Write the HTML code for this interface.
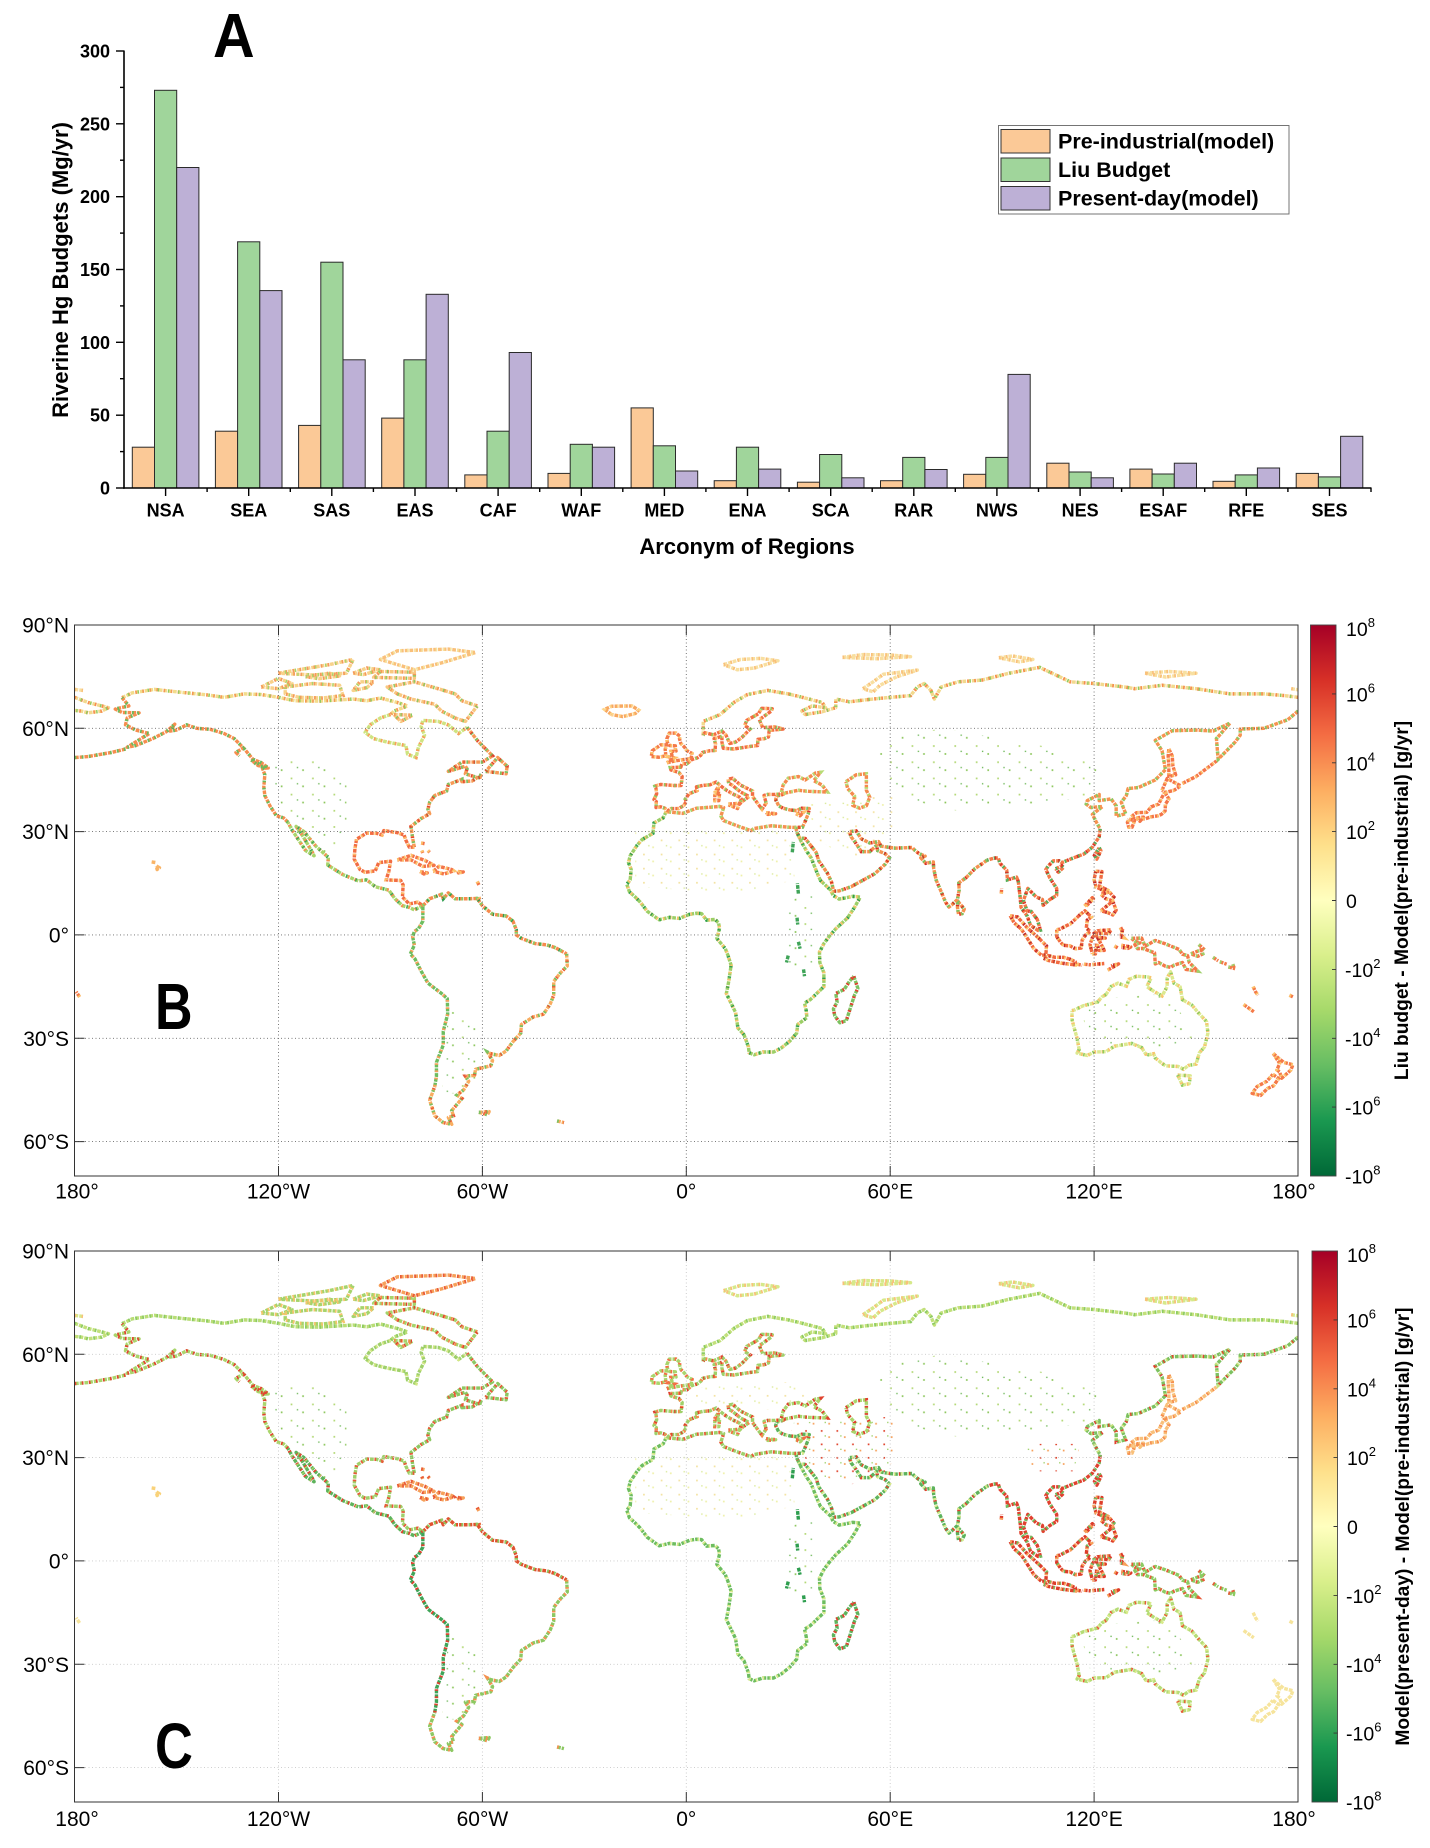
<!DOCTYPE html>
<html><head><meta charset="utf-8"><style>
html,body{margin:0;padding:0;background:#fff;}
body{width:1430px;height:1848px;overflow:hidden;position:relative;}
svg text{font-family:"Liberation Sans",Arial,sans-serif;}
.c{fill:none;stroke-width:1.0;stroke-linejoin:round;stroke-linecap:butt;stroke-dasharray:1.1 0.3;}
.ov{fill:none;stroke-width:1.0;stroke-dasharray:0.5 1.6;stroke-linecap:butt;}
.ov2{fill:none;stroke-width:1.0;stroke-dasharray:0.4 2.6;stroke-dashoffset:1.1;}
.ax{font-weight:bold;}
</style></head><body>
<svg width="1430" height="1848" viewBox="0 0 1430 1848" xmlns="http://www.w3.org/2000/svg" style="position:absolute;left:0;top:0">
<defs>
<linearGradient id="cb" x1="0" y1="0" x2="0" y2="1">
<stop offset="0" stop-color="#a50026"/><stop offset="0.1" stop-color="#d73027"/><stop offset="0.2" stop-color="#f46d43"/><stop offset="0.3" stop-color="#fdae61"/><stop offset="0.4" stop-color="#fee08b"/><stop offset="0.5" stop-color="#ffffbf"/><stop offset="0.6" stop-color="#d9ef8b"/><stop offset="0.7" stop-color="#a6d96a"/><stop offset="0.8" stop-color="#66bd63"/><stop offset="0.9" stop-color="#1a9850"/><stop offset="1" stop-color="#006837"/>
</linearGradient>
<pattern id="pg" patternUnits="userSpaceOnUse" width="6.3" height="4.7"><rect x="0.4" y="0.6" width="0.5" height="0.5" fill="#8cc65c"/><rect x="3.3" y="2.9" width="0.5" height="0.5" fill="#b2d874"/><rect x="5.1" y="1.4" width="0.4" height="0.4" fill="#6fb85a"/></pattern>
<pattern id="py" patternUnits="userSpaceOnUse" width="5.2" height="4.1"><rect x="0.4" y="0.6" width="0.5" height="0.5" fill="#eef0a8"/><rect x="2.9" y="2.6" width="0.5" height="0.5" fill="#f3e2a0"/><rect x="4.4" y="1.1" width="0.4" height="0.4" fill="#d8e996"/></pattern>
<pattern id="po" patternUnits="userSpaceOnUse" width="4.6" height="3.9"><rect x="0.4" y="0.6" width="0.5" height="0.5" fill="#f6a05a"/><rect x="2.8" y="2.4" width="0.5" height="0.5" fill="#e0452f"/><rect x="3.9" y="1.0" width="0.4" height="0.4" fill="#9fd06a"/></pattern>

<path id="na_n" d="M-166,68.9 -163,70.3 -156.5,71.3 -152,70.8 -145,70.1 -141,69.7 -136,69 -130,70 -125,69.8 -120,69 -115,68 -108,67.9 -98,68.5 -94,68 -90,68.8 -85,67.5 -82,66.5 -86,65 -87,64"/>
<path id="na_hb" d="M-87,64 -90,63 -93,61 -94.5,58.8 -92,57 -88,56 -82.5,55 -82,52.5 -79.5,51.5 -78.8,54.5 -77,58 -78,60.5 -77.5,62.3 -73,62 -70,61 -67,58.5 -64.5,60.3"/>
<path id="na_e" d="M-64.5,60.3 -61.5,56.5 -57,52 -60,50.2 -66,50.2 -70,47.5 -65,49 -64.5,48.2 -65,46.8 -61.5,45.7 -63,44.7 -66,44.5 -66,45.2 -67,44.8 -70,43.7 -70.5,41.8 -74,40.5 -75.5,38.5 -76,36.5 -75.5,35.2 -78,33.8 -81,31.5 -80.5,28 -80,25.5 M-59,47.5 -53,46.8 -52.7,49 -55.5,51.5 -59,47.5 M-61,46.5 -60,46 -61.3,45.6"/>
<path id="na_g" d="M-80,25.5 -81.5,25.5 -82.5,27.5 -83,29 -85,29.7 -89,30.3 -89.5,29 -91,29.5 -94,29.6 -97,27.8 -97.5,25 -97.7,22 -96,19 -94.5,18.2 -91.5,18.6 -90.5,21 -87,21.4 -87.5,18.5 -88.3,16 -84,15.8 -83.3,14.5 -83.5,11 -81.5,9 -79,9.5 -77.5,8.5"/>
<path id="na_w" d="M-77.5,8.5 -78.5,8 -80,7.3 -81.5,8 -83.5,8.5 -85.7,10.5 -87.5,13 -91.5,14 -94,16 -96.5,15.7 -101,17.5 -105.5,20.3 -105.3,22.5 -109,25.8 -112.5,30 -114.8,31.5 -113,29 -110,24 -109.5,23 -112,24.5 -114,27.5 -116,30.5 -117.2,32.7"/>
<path id="na_wc" d="M-117.2,32.7 -118.5,34 -120.6,34.6 -122.5,37.5 -124,40.5 -124.3,43 -124,46.5 -124.7,48.4 -123,48.5 -125,50 -127.5,51 -130,54 -133,57 -136,58.5 -140,59.7 -144,60 -147,61 -150,59.5 -151.8,59.2 -150.5,61.2 -153,59 -157,57 -162,55 -164.5,54.5 -158,58.5 -162,59.5 -165,61 -164.5,63 -161,64.5 -166,64.6 -168,65.6 -164,66.5 -166,68.9 M-165,54 -169,53 -172,52.5 -176,51.8 -180,51.5 M-130,54.5 -132.5,53 -131.5,52 M-128,50.8 -123.5,48.5 -126,49.2 -128,50.8"/>
<path id="arc_w" d="M-118,72 -110,73 -102,72.5 -101,69.5 -107,68.8 -114,69 -118,70 -118,72 M-125,72 -120,74.5 -116,73 -120,71.5 -125,72 M-120,76 -105,78.5 -98,80 -100,76 -110,75.5 -120,76 M-98,76 -94,77.5 -90,77 -95,75.6 -98,76 M-92,73.5 -96,73.5 -98,71 -94,71.8 -92,73.5 M-112,75 -105,76 -102,75.2 -108,74.4 -112,75"/>
<path id="arc_e" d="M-61.5,66.5 -66,68 -68,70 -73,71.5 -80,73.5 -88,72 -85,70 -81,68.5 -74,67 -72,65 -68,63 -65,62 -61.5,66.5 M-90,76.5 -80,76.3 -80,74.5 -92,74.8 -90,76.5 M-86,64 -80.5,63.8 -84,62 -86,64"/>
<path id="ell" d="M-80,77 -90,80 -85,82.5 -70,83 -62,82 -72,79 -80,77"/>
<path id="carib" d="M-85,21.8 -81,23.1 -77,21.7 -74.2,20.2 -77.5,19.9 -81,21.8 -85,21.8 M-74.4,18.5 -72.8,19.9 -69,19 -68.4,18.6 -71.3,17.7 -74.4,18.5 M-78.3,18.4 -76.2,18 -77.2,17.7 -78.3,18.4 M-67.2,18.4 -65.6,18.3 -67,18 -67.2,18.4 M-78,26.7 -77,26.5 M-77.8,24.5 -77.5,23.8 M-76,24.5 -75.5,24 M-61.5,15.5 -61,14.5 M-61,11 -60.8,10.3"/>
<path id="haw" d="M-155.9,20 -155,19.5 -155.7,19 -155.9,20 M-157.3,21.2 -156,21"/>
<path id="sa_n" d="M-77.5,8.5 -75.5,10.5 -72,11.8 -71.5,10.5 -70,12.2 -68,10.5 -64,10.5 -61.5,10.6 -60,8.5 -57,6 -53,5.5 -51,4 -50,1.5 -50,0 -48.5,-1 -44.5,-2.5 -41,-2.9 -38.5,-3.7 -35.2,-5.5"/>
<path id="sa_e" d="M-35.2,-5.5 -35,-9 -37,-11 -39,-13.5 -39,-17.5 -40,-20 -42,-23 -45,-23.8 -48.5,-26 -48.7,-28.5 -51,-31 -53,-33.7 -55,-35 -57.5,-34.5 -58.5,-34 -57,-36.5 -57.5,-38 -62,-39 -62.3,-40.8 -65,-41 -64,-42.5 -65.5,-45 -67.5,-46.5 -66,-47.5 -69,-51 -68.5,-52.5 -70,-53 -69,-55 -71.5,-54.5 -74,-52.5 -75.5,-48 -74,-44 M-61,-51.5 -58,-51.3 -58.5,-52.2 -61,-51.5 M-38,-54 -36,-54.5"/>
<path id="sa_w" d="M-74,-44 -73.5,-41 -73.5,-37 -71.5,-32 -71.5,-28 -70.2,-23 -70.3,-18.5 -72,-17 -76,-14 -78,-10.5 -79.8,-7 -81.2,-5.5 -80,-3 -80.5,-0.5 -80,1 -78.8,1.8 -77.5,4 -77.5,7 -77.5,8.5"/>
<path id="eu_n" d="M5,58 5,62 10,64 14,67.5 18,69.8 24,71 30,70 33,69.3 40,67.5 41,66 37,66.5 34,65 35,64 38,64.5 40,64.8 44,66 44,68.5 48,67.7 53,68.3 58,68.8 66,69.5 68,72 70,73 72,71 73,68.5 75,72 80,73.5 87,74 95,76 104,77.7 113,73.5 120,73 129,72 132,71.5 140,72.5 150,71.5 160,70 170,70 176,69.5 180,69 M-180,69 -176,67.5 -172,66.5 -170,66 -172,65 -176,64.5 -178,65 -180,65.2"/>
<path id="ru_is" d="M11,78.5 16,80 22,80.3 27,79.6 20,77.5 15,77 11,78.5 M52,71.5 55,73.5 58,75.7 68,76.9 62,75 57,72.5 55,70.6 52,71.5 M92,80.5 96,81 102,80 98,79.3 92,80.5 M135,76 142,76.5 150,76 141,74.9 135,76 M46,80.6 52,81.4 60,81.3 66,80.8 56,80.2 46,80.6 M178,71.5 180,71.2 M-180,71.3 -177.5,71"/>
<path id="ea" d="M180,65 177,62.5 170,60 163,59.8 163,58 161.5,56 156.5,51 156,57 160,61.5 155,59.2 150,59.5 143,59.3 138,56.5 140,53.5 141,48 138,45 133,42.8 130,42.5 129.5,40.5 128,38.5 129.3,35.2 126.5,34.5 126.5,37.5 125,39.5 121.5,39 121.5,40.8 118,39 117.7,38 119,37 122.5,37.3 119.5,35 120.8,32.5 121.8,30.8"/>
<path id="cn" d="M121.8,30.8 121.5,28.5 119.5,25.5 117,23.5 113.5,22.2 110.5,21 109.7,21.5 108,21.5 106.5,20 105.8,19 107,16.5 109,13.5 109,11.5 107,10.3 105,8.6 104.8,10.3 103,11 100.5,13.5 99.2,10 100.3,7 101.5,6.8 103.3,4.5 104.2,1.4 103.5,1.3 101.3,2.8 100.3,5.5 98.5,8 98.3,10.5 97.7,15.5 97.2,16.8 94.5,16 94.3,18.8 92.3,20.8 91.8,22.4 90.5,22.3 88.5,21.7 M108.7,19.2 110.5,20.1 111,19.6 109.5,18.2 108.7,19.2 M121.5,25.3 122,24.5 120.8,22 120.1,23.1 121.5,25.3"/>
<path id="ind" d="M88.5,21.7 86.8,20.5 85,19.3 82.3,16.6 80.2,15.1 80.3,13 79.8,10.3 78.2,8.8 77.3,8.1 76.3,9.5 74.9,12.8 73.5,16 72.8,19.3 72.7,21.2 70.5,20.8 69,22.4 70.3,22.9 68.5,23.6 67,24.8 66.5,25.4 64,25.3 61.5,25.2 58.5,25.6 57.3,25.8 56.6,27.1 54,26.7 51.5,27.9 50,30.2 48,30 48.5,28.5 50,26.5 51.5,24.2 54,24.2 56,26 56.3,24.5 58.5,23.6 59.8,22.4 58.5,20.5 55.5,17.8 52.2,16 48.5,14 45,12.8 43.4,12.7 42.7,15.5 41.5,18 39,21.5 38.2,24 35,28 34.6,28.1 33.5,28 32.5,29.9 32.3,31.2 34.2,31.3 35,33 35.9,35.2 36.2,36.7 34,36.8 32.5,36.1 30.5,36.3 28.5,36.8 27.2,37.5 26.3,39.3 26.6,40.3 29,41 M79.9,9.8 81.8,7.5 81.2,6.2 80.1,6 79.8,8 79.9,9.8"/>
<path id="eu" d="M29,41 26,40.8 24,40.8 22.9,40.5 23.5,38.3 22.3,36.5 21.3,37.8 19.5,40.2 19.5,41.8 16,43.5 13.6,45.5 12.3,45.2 12.5,44 13.5,43.5 16,41.5 18.5,40.2 16.5,38.8 15.7,38 16.2,39.5 15.7,40 14,40.8 12,41.9 10.5,43 8.8,44.4 7,43.6 4.8,43.4 3,43 3.2,41.9 0.8,41 -0.3,39.4 0,38.8 -0.7,37.6 -2.2,36.7 -4.4,36.7 -5.5,36 -6.3,36.8 -7.5,37.2 -8.9,37 -8.8,38.7 -9.5,39.3 -8.7,41 -8.9,42.5 -9.2,43.2 -7.5,43.7 -3.8,43.4 -1.5,43.4 -1.2,46 -2.2,47.2 -4.5,47.9 -4.7,48.6 -1.6,48.7 -1.3,49.7 0.2,49.7 1.6,50.9 3.2,51.4 4.3,52.2 4.8,53 7,53.5 8.5,53.6 8.6,55.5 8.2,57 10.5,57.7 10.5,56 10.9,54.2 14,54 18.5,54.7 21,55 21.1,56.8 23,57 24.2,57.5 24.4,59.4 28.5,59.8 26,60.4 22.5,60.2 21.5,62.5 25,65 25.3,65.7 22.2,65.8 21.2,64.2 17.8,62.3 17.2,60.8 18.8,59.8 16.3,57.3 14.5,56 12.8,55.6 11.7,58 10.5,59.2 8,58.1 5.5,58.7 5,58"/>
<path id="eu_is" d="M-5.7,50 -3,50.6 1.4,51.2 1.7,52.7 0.2,53.5 -0.5,54.5 -1.6,55.6 -2,57 -1.8,57.6 -3,58.6 -5,58.6 -5.7,57 -5.6,56 -4.9,55 -3.2,54.9 -3.2,54 -3,53.4 -4.5,53.3 -4.2,52.2 -5.2,51.7 -3.5,51.4 -5.7,50 M-6,52 -6.2,53.9 -5.8,55.2 -7.5,55.2 -8.5,54.5 -10,53.5 -10.3,51.8 -8,51.6 -6,52 M12.4,38 15.6,38.2 15.1,36.7 12.4,37.8 M8.4,41 9.8,41 9.6,39 8.4,39 8.4,41 M9.4,43 9.5,41.4 8.6,41.7 9.4,43 M23.5,35.5 26.3,35.2 24,35 23.5,35.5 M32.3,35.2 34.5,35.6 33.5,34.6 32.3,35.2"/>
<path id="ice" d="M-22,64 -24,65.5 -22,66.4 -16,66.5 -14,65.3 -15,64.3 -18.7,63.4 -22,64"/>
<path id="inl" d="M28,41.5 28.5,43.5 30,45.5 33,46 35,45 38,47 39.5,47.2 37.5,44.8 40,43.5 41.5,41.5 36,41.7 33,42 29,41.2 28,41.5 M47,44.5 50,46.5 53,46.8 53,42 54,40 53,37.5 51,36.8 49,37.6 49.5,40.3 47.5,42.5 47,44.5"/>
<path id="af_n" d="M32.3,31.2 30,31.3 25,31.7 20,30.9 19,30.3 15.5,31.5 11,33.2 10.2,34.5 11,37 9.7,37.3 6,37 3,36.8 -1,35.3 -5.9,35.8"/>
<path id="af" d="M-5.9,35.8 -6.8,34 -9.5,32.5 -9.8,29.5 -13,27.7 -14.5,26 -16.5,23 -17,21 -16.2,19 -16.5,16 -17.5,14.7 -16.7,12.5 -15,11 -13.5,9.5 -11.5,6.9 -8,4.4 -5,5.1 -2,4.8 1,6 3,6.3 4.5,6.2 6,4.3 8.5,4.5 9.5,3.5 9.8,2 9.3,0 9,-1 11.5,-4 12.3,-6 13.2,-8.8 12.5,-13.5 11.8,-17 14.5,-22.5 15.2,-27 17,-29 18.3,-32.5 18.5,-34.2 20,-34.8 22.5,-34 25.7,-34 28,-32.8 30.5,-30.8 32.5,-28.5 32.8,-26 35.5,-24 35.3,-22 34.8,-19.8 36.5,-18.8 40.5,-15 40.5,-11 39.3,-8 39.2,-5 40.5,-2.5 42,-0.5 44,1.8 47.5,5 49.5,8 51.2,11 49,11.2 45,10.4 43.2,11.5 42.5,13 39.5,15.8 38.5,18 37.3,21 36.7,22.5 35.5,24.2 33.9,27 32.5,29.9"/>
<path id="afr" d="M33,-2 33.5,-4 M32.6,5 32.8,3 M34.5,-10 34.8,-12 M30,-6 29.5,-8 M31.2,24 31.5,27 M33,12 32.7,15"/>
<path id="mad" d="M49.3,-12 50.5,-15.5 49.5,-17.5 47.1,-24.9 45.2,-25.5 43.7,-23.5 43.3,-21.5 44.4,-19.5 44,-17 46.5,-15.8 48,-13.5 49.3,-12"/>
<path id="sea" d="M95.3,5.6 97.5,5.2 100.3,2.1 103.8,-1 106,-3.2 105.8,-5.8 104.5,-5.9 102.3,-4 100.5,-1.2 98.6,1.7 96.5,3.5 95.3,5.6 M105.2,-6.8 106.5,-6 108.5,-6.5 111,-6.5 112.8,-7 114.5,-7.8 114.5,-8.7 110.5,-8.2 106.5,-7.4 105.2,-6.8 M109,1.5 110,1.7 111.5,2.5 113,3.2 114.5,4.6 116,6 117.3,7 119.2,5.2 118,4.3 117.7,2 118.9,1 117.5,0 116.5,-1.5 116.2,-3.8 114.5,-4 113,-3.2 111,-3 110.2,-2.2 109,-0.5 109,1.5 M119.5,-5.5 120.4,-5.5 120.8,-2.5 121.5,-4.5 123,-4.5 121.3,-1.2 123.3,-0.9 121,-0.7 120.1,0.5 121,1.2 125,1.5 124.3,0.4 120.5,0.5 119.5,-0.8 118.8,-2.8 119.5,-5.5 M120.5,18.5 122.3,18.4 122,16.5 121.6,14.2 124,13 123.7,12.5 120.6,13.9 120,16 120.5,18.5 M122,7 125.5,9.8 126.5,7.2 125.5,5.8 124,6.5 122,7 M124.5,12.5 125.8,11 125,10 123.5,10.5 122,11.8 124.5,12.5 M117.2,8.4 119.5,10.8 119.8,10.5 117.5,8.2 M115,-8.5 116.5,-8.8 M117,-8.5 119,-8.7 M119.5,-8.6 123,-8.3 M124,-10.2 127.2,-8.4 125,-9 M127.5,1.5 128.5,2 128,0 128.8,-0.8 127.5,-0.5 M128,-3 130.8,-3.5 130,-3.9 128,-3.6 M126,-3.2 127,-3.8 M92.7,12 92.8,13.5"/>
<path id="ng" d="M131,-1 134,-0.9 135,-3.3 138,-1.6 141,-2.6 145,-4.2 146,-5.6 147.5,-6 148,-8 150.5,-10.5 149,-10.3 147,-10 146,-8 143.5,-8.8 142.5,-9.4 141,-9.1 139,-8 138,-8.4 137.8,-5.2 134.3,-3.9 132.8,-4 132,-2.8 133.5,-2.3 132,-1.8 131,-1 M148.5,-5.5 151.5,-4.3 152,-5.5 150.5,-6.2 148.5,-5.5 M150.8,-2.8 152.5,-4.3 M155,-6.5 156.5,-7.5 M157,-7.8 159,-8.5 M159.5,-9.3 161.5,-9.8 M160.8,-8.5 161.2,-9.5"/>
<path id="jp" d="M142,54 143,52 143.2,49 144,46.5 142,46 142,49 141.8,52 142,54 M140,42 141.5,45.4 145.5,43.3 143.5,42 141,41.4 140,42 M140.8,41.4 142,39.5 141,38 140.9,36 139.8,35 138.8,34.6 136.8,34.3 135,33.7 132,33.8 130.9,34.3 132.5,35.5 135.5,35.6 136.8,37.2 139,38 140,40 140.8,41.4 M130.3,33.6 131.9,33.2 131.2,31.3 130.2,31.3 129.8,32.7 130.3,33.6 M132.5,34 134.5,34.2 133.5,33 132.5,34 M146,44 148,45 150,46 152,47.5 154,49 156,50.5"/>
<path id="au" d="M113.5,-22 114.2,-21.8 116.7,-20.6 121,-19.5 122.3,-18 123.5,-17.3 125,-15 127,-14 129.5,-14.9 130.3,-12.9 132.5,-12 135.8,-12.2 136.8,-12.5 135.5,-15 137.8,-16.5 140,-17.7 141.5,-15 141.5,-12.5 142.5,-10.7 143.5,-14 145.3,-15 146,-18.8 148.8,-20.4 150.6,-22.5 153.1,-25.2 153.5,-28.5 152.5,-32.5 151,-34.2 150,-37.5 147.8,-37.9 146.3,-39 144.8,-38.2 141,-38 139.6,-37 138,-35.7 137.5,-34.5 136,-34.8 135.2,-34.6 134,-32.7 131,-31.5 126,-32.3 123.5,-33.9 120,-34 118,-35 115,-34.3 115.6,-33.3 115,-30 114,-26.5 113.5,-24.5 113.5,-22 M144.6,-40.7 148.3,-40.9 148,-43.2 146,-43.6 144.6,-40.7"/>
<path id="nz" d="M172.7,-34.4 174.5,-36 175.8,-37 178.5,-37.7 177.9,-39.2 176.8,-40.2 175.2,-41.6 174.6,-39.8 173.8,-39.2 174.6,-37.3 172.7,-34.4 M172.6,-40.5 174.3,-41.7 172.8,-43.8 171,-44.6 169,-46.6 166.5,-46 168,-44 170.8,-42.5 172.6,-40.5 M164,-20.2 167,-22.3 M166.8,-15 167.5,-16.5 168.2,-17.5 M177.5,-17.5 178.5,-18 M-178.5,-18 -179.5,-16.5"/>
</defs>

<!-- ============ PANEL A ============ -->
<text x="213" y="57" font-size="62" font-weight="bold" transform="translate(213,57) scale(0.93,1) translate(-213,-57)">A</text>
<g stroke="#2a2a2a" stroke-width="1">
<rect x="132.3" y="447.2" width="22.2" height="40.8" fill="#fbc997"/><rect x="154.5" y="90.3" width="22.2" height="397.7" fill="#a0d59b"/><rect x="176.7" y="167.5" width="22.2" height="320.5" fill="#bdb0d6"/>
<rect x="215.4" y="431.2" width="22.2" height="56.8" fill="#fbc997"/><rect x="237.6" y="241.8" width="22.2" height="246.2" fill="#a0d59b"/><rect x="259.8" y="290.6" width="22.2" height="197.4" fill="#bdb0d6"/>
<rect x="298.6" y="425.4" width="22.2" height="62.6" fill="#fbc997"/><rect x="320.8" y="262.2" width="22.2" height="225.8" fill="#a0d59b"/><rect x="343.0" y="359.8" width="22.2" height="128.2" fill="#bdb0d6"/>
<rect x="381.7" y="418.1" width="22.2" height="69.9" fill="#fbc997"/><rect x="403.9" y="359.8" width="22.2" height="128.2" fill="#a0d59b"/><rect x="426.1" y="294.3" width="22.2" height="193.7" fill="#bdb0d6"/>
<rect x="464.8" y="474.9" width="22.2" height="13.1" fill="#fbc997"/><rect x="487.0" y="431.2" width="22.2" height="56.8" fill="#a0d59b"/><rect x="509.2" y="352.5" width="22.2" height="135.5" fill="#bdb0d6"/>
<rect x="548.0" y="473.4" width="22.2" height="14.6" fill="#fbc997"/><rect x="570.2" y="444.3" width="22.2" height="43.7" fill="#a0d59b"/><rect x="592.4" y="447.2" width="22.2" height="40.8" fill="#bdb0d6"/>
<rect x="631.1" y="407.9" width="22.2" height="80.1" fill="#fbc997"/><rect x="653.3" y="445.8" width="22.2" height="42.2" fill="#a0d59b"/><rect x="675.5" y="471" width="22.2" height="17" fill="#bdb0d6"/>
<rect x="714.2" y="480.7" width="22.2" height="7.3" fill="#fbc997"/><rect x="736.4" y="447.2" width="22.2" height="40.8" fill="#a0d59b"/><rect x="758.6" y="469.1" width="22.2" height="18.9" fill="#bdb0d6"/>
<rect x="797.4" y="482.2" width="22.2" height="5.8" fill="#fbc997"/><rect x="819.6" y="454.5" width="22.2" height="33.5" fill="#a0d59b"/><rect x="841.8" y="477.8" width="22.2" height="10.2" fill="#bdb0d6"/>
<rect x="880.5" y="480.7" width="22.2" height="7.3" fill="#fbc997"/><rect x="902.7" y="457.4" width="22.2" height="30.6" fill="#a0d59b"/><rect x="924.9" y="469.5" width="22.2" height="18.5" fill="#bdb0d6"/>
<rect x="963.6" y="474.3" width="22.2" height="13.7" fill="#fbc997"/><rect x="985.8" y="457.4" width="22.2" height="30.6" fill="#a0d59b"/><rect x="1008.0" y="374.4" width="22.2" height="113.6" fill="#bdb0d6"/>
<rect x="1046.8" y="463.2" width="22.2" height="24.8" fill="#fbc997"/><rect x="1069.0" y="472" width="22.2" height="16" fill="#a0d59b"/><rect x="1091.2" y="477.8" width="22.2" height="10.2" fill="#bdb0d6"/>
<rect x="1129.9" y="469.1" width="22.2" height="18.9" fill="#fbc997"/><rect x="1152.1" y="474" width="22.2" height="14" fill="#a0d59b"/><rect x="1174.3" y="463.2" width="22.2" height="24.8" fill="#bdb0d6"/>
<rect x="1213.0" y="481.3" width="22.2" height="6.7" fill="#fbc997"/><rect x="1235.2" y="474.9" width="22.2" height="13.1" fill="#a0d59b"/><rect x="1257.4" y="468" width="22.2" height="20" fill="#bdb0d6"/>
<rect x="1296.2" y="473.4" width="22.2" height="14.6" fill="#fbc997"/><rect x="1318.4" y="476.9" width="22.2" height="11.1" fill="#a0d59b"/><rect x="1340.6" y="436.3" width="22.2" height="51.7" fill="#bdb0d6"/>
</g>
<g stroke="#000" stroke-width="1.6" fill="none">
<line x1="124" y1="50.5" x2="124" y2="488.8"/>
<line x1="123.2" y1="488" x2="1371.5" y2="488"/>
</g>
<g stroke="#000" stroke-width="1.4">
<line x1="116" y1="488" x2="124" y2="488"/><line x1="116" y1="415.2" x2="124" y2="415.2"/><line x1="116" y1="342.3" x2="124" y2="342.3"/><line x1="116" y1="269.5" x2="124" y2="269.5"/><line x1="116" y1="196.7" x2="124" y2="196.7"/><line x1="116" y1="123.8" x2="124" y2="123.8"/><line x1="116" y1="51" x2="124" y2="51"/>
<line x1="120" y1="451.6" x2="124" y2="451.6"/><line x1="120" y1="378.7" x2="124" y2="378.7"/><line x1="120" y1="305.9" x2="124" y2="305.9"/><line x1="120" y1="233.1" x2="124" y2="233.1"/><line x1="120" y1="160.2" x2="124" y2="160.2"/><line x1="120" y1="87.4" x2="124" y2="87.4"/>
<line x1="165.6" y1="488" x2="165.6" y2="496"/><line x1="248.7" y1="488" x2="248.7" y2="496"/><line x1="331.8" y1="488" x2="331.8" y2="496"/><line x1="415" y1="488" x2="415" y2="496"/><line x1="498.1" y1="488" x2="498.1" y2="496"/><line x1="581.3" y1="488" x2="581.3" y2="496"/><line x1="664.4" y1="488" x2="664.4" y2="496"/><line x1="747.5" y1="488" x2="747.5" y2="496"/><line x1="830.7" y1="488" x2="830.7" y2="496"/><line x1="913.8" y1="488" x2="913.8" y2="496"/><line x1="996.9" y1="488" x2="996.9" y2="496"/><line x1="1080.1" y1="488" x2="1080.1" y2="496"/><line x1="1163.2" y1="488" x2="1163.2" y2="496"/><line x1="1246.3" y1="488" x2="1246.3" y2="496"/><line x1="1329.5" y1="488" x2="1329.5" y2="496"/>
<line x1="207.1" y1="488" x2="207.1" y2="492"/><line x1="290.3" y1="488" x2="290.3" y2="492"/><line x1="373.4" y1="488" x2="373.4" y2="492"/><line x1="456.5" y1="488" x2="456.5" y2="492"/><line x1="539.7" y1="488" x2="539.7" y2="492"/><line x1="622.8" y1="488" x2="622.8" y2="492"/><line x1="705.9" y1="488" x2="705.9" y2="492"/><line x1="789.1" y1="488" x2="789.1" y2="492"/><line x1="872.2" y1="488" x2="872.2" y2="492"/><line x1="955.3" y1="488" x2="955.3" y2="492"/><line x1="1038.5" y1="488" x2="1038.5" y2="492"/><line x1="1121.6" y1="488" x2="1121.6" y2="492"/><line x1="1204.7" y1="488" x2="1204.7" y2="492"/><line x1="1287.9" y1="488" x2="1287.9" y2="492"/><line x1="1371" y1="488" x2="1371" y2="492"/>
</g>
<g class="ax" font-size="18" text-anchor="end">
<text x="110" y="494.5">0</text><text x="110" y="421.7">50</text><text x="110" y="348.8">100</text><text x="110" y="276">150</text><text x="110" y="203.2">200</text><text x="110" y="130.3">250</text><text x="110" y="57.5">300</text>
</g>
<g class="ax" font-size="18" text-anchor="middle">
<text x="165.6" y="516.5">NSA</text><text x="248.7" y="516.5">SEA</text><text x="331.8" y="516.5">SAS</text><text x="415" y="516.5">EAS</text><text x="498.1" y="516.5">CAF</text><text x="581.3" y="516.5">WAF</text><text x="664.4" y="516.5">MED</text><text x="747.5" y="516.5">ENA</text><text x="830.7" y="516.5">SCA</text><text x="913.8" y="516.5">RAR</text><text x="996.9" y="516.5">NWS</text><text x="1080.1" y="516.5">NES</text><text x="1163.2" y="516.5">ESAF</text><text x="1246.3" y="516.5">RFE</text><text x="1329.5" y="516.5">SES</text>
</g>
<text class="ax" font-size="22" text-anchor="middle" x="747" y="554">Arconym of Regions</text>
<text class="ax" font-size="22" text-anchor="middle" transform="translate(68,270) rotate(-90)">Riverine Hg Budgets (Mg/yr)</text>
<rect x="998.5" y="125.5" width="290.5" height="88.5" fill="#fff" stroke="#666" stroke-width="0.9"/>
<g stroke="#333" stroke-width="1">
<rect x="1001" y="129.5" width="49" height="23.5" fill="#fbc997"/>
<rect x="1001" y="158" width="49" height="23.5" fill="#a0d59b"/>
<rect x="1001" y="186.5" width="49" height="23.5" fill="#bdb0d6"/>
</g>
<g class="ax" font-size="21.5">
<text x="1058" y="148.5">Pre-industrial(model)</text>
<text x="1058" y="177">Liu Budget</text>
<text x="1058" y="205.5">Present-day(model)</text>
</g>

<!-- ============ PANEL B ============ -->
<svg x="74.5" y="625" width="1223.5" height="551" viewBox="-180 -90 360 160" preserveAspectRatio="none">
<g transform="scale(1,-1)">
<polygon points="-122,50 -110,52 -100,46 -100,32 -105,20 -112,26 -118,34 -121,44" fill="url(#pg)"/>
<polygon points="-15,31 30,31 32,16 15,12 -15,14" fill="url(#py)"/>
<polygon points="36,38 62,42 60,26 48,22 38,28" fill="url(#py)"/>
<polygon points="55,56 75,60 110,54 122,48 118,40 100,38 80,36 62,40" fill="url(#pg)"/>
<polygon points="116,-19 142,-17 150,-30 136,-34 118,-31" fill="url(#pg)"/>
<polygon points="-70,-22 -60,-24 -60,-40 -66,-46 -72,-46" fill="url(#pg)"/>
<polygon points="30,-10 38,-10 38,12 30,10" fill="url(#pg)"/>
<use href="#na_n" class="c" stroke="#f3dc8c"/><use href="#na_n" class="ov" stroke="#f39a55"/><use href="#na_n" class="ov2" stroke="#8fcb62"/>
<use href="#arc_w" class="c" stroke="#f8d28a"/><use href="#arc_w" class="ov" stroke="#f49a5a"/><use href="#arc_w" class="ov2" stroke="#a9d56c"/>
<use href="#arc_e" class="c" stroke="#f8c880"/><use href="#arc_e" class="ov" stroke="#f49a5a"/><use href="#arc_e" class="ov2" stroke="#8ccb62"/>
<use href="#ell" class="c" stroke="#f9c07a"/><use href="#ell" class="ov" stroke="#f6e3a0"/>
<use href="#na_hb" class="c" stroke="#cfe481"/><use href="#na_hb" class="ov" stroke="#f6a05a"/>
<use href="#na_e" class="c" stroke="#f79a55"/><use href="#na_e" class="ov" stroke="#7cc160"/><use href="#na_e" class="ov2" stroke="#e0452f"/>
<use href="#carib" class="c" stroke="#f47548"/><use href="#carib" class="ov" stroke="#fdc36b"/>
<use href="#na_g" class="c" stroke="#f26d43"/><use href="#na_g" class="ov" stroke="#fdb967"/>
<use href="#na_w" class="c" stroke="#a9d56c"/><use href="#na_w" class="ov" stroke="#f59050"/><use href="#na_w" class="ov2" stroke="#3fa458"/>
<use href="#na_wc" class="c" stroke="#f68d4e"/><use href="#na_wc" class="ov" stroke="#69bb5c"/>
<use href="#haw" class="c" stroke="#f9b467"/>
<use href="#sa_n" class="c" stroke="#f68a4c"/><use href="#sa_n" class="ov" stroke="#8ccb62"/><use href="#sa_n" class="ov2" stroke="#2e9e4f"/>
<use href="#sa_e" class="c" stroke="#f9ad60"/><use href="#sa_e" class="ov" stroke="#7cc160"/><use href="#sa_e" class="ov2" stroke="#e85a38"/>
<use href="#sa_w" class="c" stroke="#6dbd5f"/><use href="#sa_w" class="ov" stroke="#f6a05a"/>
<use href="#eu_n" class="c" stroke="#f2d98e"/><use href="#eu_n" class="ov" stroke="#f68d4e"/><use href="#eu_n" class="ov2" stroke="#8ccb62"/>
<use href="#ru_is" class="c" stroke="#f8dfa0"/><use href="#ru_is" class="ov" stroke="#f9c07a"/>
<use href="#ea" class="c" stroke="#f6934f"/><use href="#ea" class="ov" stroke="#8ccb62"/>
<use href="#cn" class="c" stroke="#f47a48"/><use href="#cn" class="ov" stroke="#55b05a"/><use href="#cn" class="ov2" stroke="#d73027"/>
<use href="#ind" class="c" stroke="#f6924f"/><use href="#ind" class="ov" stroke="#7cc160"/><use href="#ind" class="ov2" stroke="#d73027"/>
<use href="#eu" class="c" stroke="#f26d43"/><use href="#eu" class="ov" stroke="#fdb967"/><use href="#eu" class="ov2" stroke="#8ccb62"/>
<use href="#eu_is" class="c" stroke="#f47a48"/><use href="#eu_is" class="ov" stroke="#fdc36b"/>
<use href="#ice" class="c" stroke="#f8a860"/><use href="#ice" class="ov" stroke="#fdd58a"/>
<use href="#inl" class="c" stroke="#f58a4c"/><use href="#inl" class="ov" stroke="#b7dc74"/>
<use href="#af_n" class="c" stroke="#f59050"/><use href="#af_n" class="ov" stroke="#a9d56c"/>
<use href="#af" class="c" stroke="#9ccf67"/><use href="#af" class="ov" stroke="#f6c46c"/><use href="#af" class="ov2" stroke="#2e9e4f"/>
<use href="#afr" class="c" stroke="#3fa458"/>
<use href="#mad" class="c" stroke="#7cc160"/><use href="#mad" class="ov" stroke="#e0412e"/>
<use href="#sea" class="c" stroke="#f26a40"/><use href="#sea" class="ov" stroke="#fdc36b"/><use href="#sea" class="ov2" stroke="#c02a2a"/>
<use href="#ng" class="c" stroke="#f47a48"/><use href="#ng" class="ov" stroke="#9fd06a"/>
<use href="#jp" class="c" stroke="#f47548"/><use href="#jp" class="ov" stroke="#fdb967"/>
<use href="#au" class="c" stroke="#dce98f"/><use href="#au" class="ov" stroke="#f7c56e"/><use href="#au" class="ov2" stroke="#8ccb62"/>
<use href="#nz" class="c" stroke="#f47a48"/><use href="#nz" class="ov" stroke="#fdc36b"/>
</g>
</svg>
<g stroke="#6a6a6a" stroke-width="0.9" stroke-dasharray="1 2.5" fill="none">
<line x1="74.5" y1="728.3" x2="1298" y2="728.3"/><line x1="74.5" y1="831.6" x2="1298" y2="831.6"/><line x1="74.5" y1="934.9" x2="1298" y2="934.9"/><line x1="74.5" y1="1038.3" x2="1298" y2="1038.3"/><line x1="74.5" y1="1141.6" x2="1298" y2="1141.6"/>
<line x1="278.5" y1="625" x2="278.5" y2="1176"/><line x1="482.4" y1="625" x2="482.4" y2="1176"/><line x1="686.3" y1="625" x2="686.3" y2="1176"/><line x1="890.2" y1="625" x2="890.2" y2="1176"/><line x1="1094.1" y1="625" x2="1094.1" y2="1176"/>
</g>
<g stroke="#333" stroke-width="1">
<rect x="74.5" y="625" width="1223.5" height="551" fill="none"/>
<path d="M278.5,625v10M482.4,625v10M686.3,625v10M890.2,625v10M1094.1,625v10M278.5,1176v-10M482.4,1176v-10M686.3,1176v-10M890.2,1176v-10M1094.1,1176v-10M74.5,728.3h10M74.5,831.6h10M74.5,934.9h10M74.5,1038.3h10M74.5,1141.6h10M1298,728.3h-10M1298,831.6h-10M1298,934.9h-10M1298,1038.3h-10M1298,1141.6h-10" fill="none"/>
</g>
<g font-size="21" text-anchor="end">
<text x="69" y="632.5">90°N</text><text x="69" y="735.8">60°N</text><text x="69" y="839.1">30°N</text><text x="69" y="942.4">0°</text><text x="69" y="1045.8">30°S</text><text x="69" y="1149.1">60°S</text>
</g>
<g font-size="21" text-anchor="middle">
<text x="77" y="1198.5">180°</text><text x="278.5" y="1198.5">120°W</text><text x="482.4" y="1198.5">60°W</text><text x="686.3" y="1198.5">0°</text><text x="890.2" y="1198.5">60°E</text><text x="1094.1" y="1198.5">120°E</text><text x="1294" y="1198.5">180°</text>
</g>
<text x="155" y="1029" font-size="65" font-weight="bold" transform="translate(155,1029) scale(0.8,1) translate(-155,-1029)">B</text>
<rect x="1310.5" y="625" width="25.5" height="551" fill="url(#cb)" stroke="#444" stroke-width="0.9"/>
<path d="M1336,693.9h-4M1336,762.8h-4M1336,831.6h-4M1336,900.5h-4M1336,969.4h-4M1336,1038.3h-4M1336,1107.1h-4" stroke="#333" stroke-width="0.9"/>
<g font-size="19.5">
<text x="1346" y="636">10<tspan dy="-9" font-size="13">8</tspan></text>
<text x="1346" y="701.4">10<tspan dy="-9" font-size="13">6</tspan></text>
<text x="1346" y="770.3">10<tspan dy="-9" font-size="13">4</tspan></text>
<text x="1346" y="839.1">10<tspan dy="-9" font-size="13">2</tspan></text>
<text x="1346" y="908">0</text>
<text x="1345" y="976.9">-10<tspan dy="-9" font-size="13">2</tspan></text>
<text x="1345" y="1045.8">-10<tspan dy="-9" font-size="13">4</tspan></text>
<text x="1345" y="1114.6">-10<tspan dy="-9" font-size="13">6</tspan></text>
<text x="1345" y="1183.5">-10<tspan dy="-9" font-size="13">8</tspan></text>
</g>
<text class="ax" font-size="19.2" text-anchor="middle" transform="translate(1408,900.5) rotate(-90)">Liu budget - Model(pre-industrial) [g/yr]</text>

<!-- ============ PANEL C ============ -->
<svg x="74.5" y="1251" width="1223.5" height="551" viewBox="-180 -90 360 160" preserveAspectRatio="none">
<g transform="scale(1,-1)">
<polygon points="-122,50 -110,52 -100,46 -100,32 -105,20 -112,26 -118,34 -121,44" fill="url(#pg)"/>
<polygon points="-15,31 30,31 32,16 15,12 -15,14" fill="url(#py)"/>
<polygon points="30,40 62,42 60,26 48,22 36,26" fill="url(#po)"/>
<polygon points="55,56 75,60 110,54 122,48 118,40 100,38 80,36 62,40" fill="url(#pg)"/>
<polygon points="100,34 116,34 114,26 102,26" fill="url(#po)"/>
<polygon points="116,-19 142,-17 150,-30 136,-34 118,-31" fill="url(#pg)"/>
<polygon points="-70,-22 -60,-24 -60,-40 -66,-46 -72,-46" fill="url(#pg)"/>
<polygon points="0,50 30,52 40,46 25,44 5,45" fill="url(#py)"/>
<polygon points="30,-10 38,-10 38,12 30,10" fill="url(#pg)"/>
<use href="#na_n" class="c" stroke="#b9dd76"/><use href="#na_n" class="ov" stroke="#8ccb62"/>
<use href="#arc_w" class="c" stroke="#a5d46c"/><use href="#arc_w" class="ov" stroke="#f6c46c"/>
<use href="#arc_e" class="c" stroke="#a5d46c"/><use href="#arc_e" class="ov" stroke="#f58a4c"/><use href="#arc_e" class="ov2" stroke="#e0412e"/>
<use href="#ell" class="c" stroke="#f6a05a"/><use href="#ell" class="ov" stroke="#e85a38"/>
<use href="#na_hb" class="c" stroke="#9fd06a"/><use href="#na_hb" class="ov" stroke="#d2e784"/>
<use href="#na_e" class="c" stroke="#8cc862"/><use href="#na_e" class="ov" stroke="#e85a38"/>
<use href="#carib" class="c" stroke="#f6a05a"/><use href="#carib" class="ov" stroke="#e85a38"/>
<use href="#na_g" class="c" stroke="#9fd06a"/><use href="#na_g" class="ov" stroke="#e85a38"/>
<use href="#na_w" class="c" stroke="#5db35c"/><use href="#na_w" class="ov" stroke="#e0452f"/><use href="#na_w" class="ov2" stroke="#a9d56c"/>
<use href="#na_wc" class="c" stroke="#a9d56c"/><use href="#na_wc" class="ov" stroke="#e0452f"/>
<use href="#haw" class="c" stroke="#f9d27a"/>
<use href="#sa_n" class="c" stroke="#e0522f"/><use href="#sa_n" class="ov" stroke="#8ccb62"/>
<use href="#sa_e" class="c" stroke="#8cc862"/><use href="#sa_e" class="ov" stroke="#f59050"/>
<use href="#sa_w" class="c" stroke="#3fa458"/><use href="#sa_w" class="ov" stroke="#e0412e"/>
<use href="#eu_n" class="c" stroke="#c2e07a"/><use href="#eu_n" class="ov" stroke="#8ccb62"/>
<use href="#ru_is" class="c" stroke="#d6e98a"/><use href="#ru_is" class="ov" stroke="#f9c07a"/>
<use href="#ea" class="c" stroke="#7cc160"/><use href="#ea" class="ov" stroke="#c9e27d"/><use href="#ea" class="ov2" stroke="#e0412e"/>
<use href="#cn" class="c" stroke="#e0412e"/><use href="#cn" class="ov" stroke="#6dbd5f"/>
<use href="#ind" class="c" stroke="#5db35c"/><use href="#ind" class="ov" stroke="#d9ea8c"/><use href="#ind" class="ov2" stroke="#e0412e"/>
<use href="#eu" class="c" stroke="#9fd06a"/><use href="#eu" class="ov" stroke="#f58a4c"/><use href="#eu" class="ov2" stroke="#e0412e"/>
<use href="#eu_is" class="c" stroke="#a9d56c"/><use href="#eu_is" class="ov" stroke="#f46d43"/>
<use href="#inl" class="c" stroke="#a9d56c"/><use href="#inl" class="ov" stroke="#e0412e"/>
<use href="#af_n" class="c" stroke="#9fd06a"/><use href="#af_n" class="ov" stroke="#e85a38"/>
<use href="#af" class="c" stroke="#6dbd5f"/><use href="#af" class="ov" stroke="#d9ea8c"/>
<use href="#afr" class="c" stroke="#2e9e4f"/>
<use href="#mad" class="c" stroke="#5db35c"/><use href="#mad" class="ov" stroke="#e0412e"/>
<use href="#sea" class="c" stroke="#dd3d2a"/><use href="#sea" class="ov" stroke="#f6a05a"/><use href="#sea" class="ov2" stroke="#6dbd5f"/>
<use href="#ng" class="c" stroke="#8ccb62"/><use href="#ng" class="ov" stroke="#e85a38"/>
<use href="#jp" class="c" stroke="#f9c07a"/><use href="#jp" class="ov" stroke="#f59050"/>
<use href="#au" class="c" stroke="#b5dc76"/><use href="#au" class="ov" stroke="#d9ea8c"/><use href="#au" class="ov2" stroke="#e85a38"/>
<use href="#nz" class="c" stroke="#f6e49c"/>
</g>
</svg>
<g stroke="#c8c8c8" stroke-width="0.9" stroke-dasharray="1 2.5" fill="none">
<line x1="74.5" y1="1354.3" x2="1298" y2="1354.3"/><line x1="74.5" y1="1457.6" x2="1298" y2="1457.6"/><line x1="74.5" y1="1560.9" x2="1298" y2="1560.9"/><line x1="74.5" y1="1664.3" x2="1298" y2="1664.3"/><line x1="74.5" y1="1767.6" x2="1298" y2="1767.6"/>
<line x1="278.5" y1="1251" x2="278.5" y2="1802"/><line x1="482.4" y1="1251" x2="482.4" y2="1802"/><line x1="686.3" y1="1251" x2="686.3" y2="1802"/><line x1="890.2" y1="1251" x2="890.2" y2="1802"/><line x1="1094.1" y1="1251" x2="1094.1" y2="1802"/>
</g>
<g stroke="#333" stroke-width="1">
<rect x="74.5" y="1251" width="1223.5" height="551" fill="none"/>
<path d="M278.5,1251v10M482.4,1251v10M686.3,1251v10M890.2,1251v10M1094.1,1251v10M278.5,1802v-10M482.4,1802v-10M686.3,1802v-10M890.2,1802v-10M1094.1,1802v-10M74.5,1354.3h10M74.5,1457.6h10M74.5,1560.9h10M74.5,1664.3h10M74.5,1767.6h10M1298,1354.3h-10M1298,1457.6h-10M1298,1560.9h-10M1298,1664.3h-10M1298,1767.6h-10" fill="none"/>
</g>
<g font-size="21" text-anchor="end">
<text x="69" y="1258.5">90°N</text><text x="69" y="1361.8">60°N</text><text x="69" y="1465.1">30°N</text><text x="69" y="1568.4">0°</text><text x="69" y="1671.8">30°S</text><text x="69" y="1775.1">60°S</text>
</g>
<g font-size="21" text-anchor="middle">
<text x="77" y="1826">180°</text><text x="278.5" y="1826">120°W</text><text x="482.4" y="1826">60°W</text><text x="686.3" y="1826">0°</text><text x="890.2" y="1826">60°E</text><text x="1094.1" y="1826">120°E</text><text x="1294" y="1826">180°</text>
</g>
<text x="155" y="1768" font-size="64" font-weight="bold" transform="translate(155,1768) scale(0.82,1) translate(-155,-1768)">C</text>
<rect x="1312" y="1251" width="25.5" height="551" fill="url(#cb)" stroke="#444" stroke-width="0.9"/>
<path d="M1337.5,1319.9h-4M1337.5,1388.8h-4M1337.5,1457.6h-4M1337.5,1526.5h-4M1337.5,1595.4h-4M1337.5,1664.3h-4M1337.5,1733.1h-4" stroke="#333" stroke-width="0.9"/>
<g font-size="19.5">
<text x="1347" y="1262">10<tspan dy="-9" font-size="13">8</tspan></text>
<text x="1347" y="1327.4">10<tspan dy="-9" font-size="13">6</tspan></text>
<text x="1347" y="1396.3">10<tspan dy="-9" font-size="13">4</tspan></text>
<text x="1347" y="1465.1">10<tspan dy="-9" font-size="13">2</tspan></text>
<text x="1347" y="1534">0</text>
<text x="1346" y="1602.9">-10<tspan dy="-9" font-size="13">2</tspan></text>
<text x="1346" y="1671.8">-10<tspan dy="-9" font-size="13">4</tspan></text>
<text x="1346" y="1740.6">-10<tspan dy="-9" font-size="13">6</tspan></text>
<text x="1346" y="1809.5">-10<tspan dy="-9" font-size="13">8</tspan></text>
</g>
<text class="ax" font-size="19.2" text-anchor="middle" transform="translate(1409,1526.5) rotate(-90)">Model(present-day) - Model(pre-industrial) [g/yr]</text>
</svg>
</body></html>
